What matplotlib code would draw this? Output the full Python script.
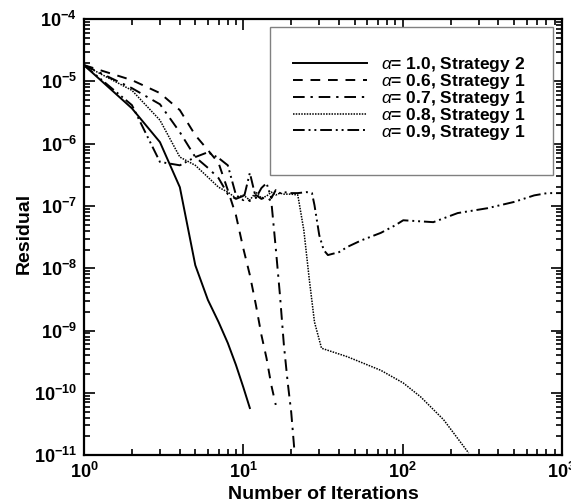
import matplotlib
matplotlib.use("Agg")
import matplotlib.pyplot as plt
import numpy as np
from matplotlib.patches import Rectangle
from matplotlib.ticker import LogLocator, FuncFormatter, NullFormatter

plt.rcParams['font.family'] = ['Liberation Sans', 'DejaVu Sans']
plt.rcParams['mathtext.fontset'] = 'custom'
plt.rcParams['mathtext.rm'] = 'Liberation Sans'
plt.rcParams['mathtext.bf'] = 'Liberation Sans:bold'
plt.rcParams['mathtext.it'] = 'Liberation Sans:italic'

# alpha = 1.0, strategy 2
it_10 = [1, 2, 3, 4, 5, 6, 7, 8, 9, 10, 11]
res_10 = [1.83e-5, 3.7e-6, 1.06e-6, 2.0e-7, 1.12e-8, 3.1e-9, 1.37e-9,
          6.3e-10, 2.8e-10, 1.24e-10, 5.7e-11]

# alpha = 0.6, strategy 1
it_06 = [1, 2, 3, 4, 5, 6, 7, 8, 9, 10, 11, 12, 13, 14, 15, 16]
res_06 = [1.83e-5, 1.05e-5, 6.5e-6, 3.46e-6, 1.37e-6, 7.9e-7, 4.9e-7,
          1.8e-7, 7.1e-8, 2.1e-8, 7.8e-9, 2.6e-9, 8.5e-10, 3.6e-10,
          1.33e-10, 6.4e-11]

# alpha = 0.7, strategy 1
it_07 = [1, 2, 3, 4, 5, 6, 7, 8, 9, 10, 11, 12, 13, 14, 15, 16, 17, 18,
         19, 20, 21]
res_07 = [1.83e-5, 7.8e-6, 4.3e-6, 1.53e-6, 6.1e-7, 4.1e-7, 2.8e-7,
          1.55e-7, 1.3e-7, 1.45e-7, 1.2e-7, 1.5e-7, 1.3e-7, 1.4e-7,
          1.2e-7, 2.1e-8, 3.7e-9, 5.8e-10, 1.49e-10, 4.9e-11, 1.1e-11]

# alpha = 0.8, strategy 1
it_08 = [1, 2, 3, 4, 5, 6, 7, 8, 9, 10, 11, 12, 13, 14, 15, 16, 17, 18,
         20, 22, 24, 26, 28, 31, 45, 73, 101, 130, 181, 260]
res_08 = [1.83e-5, 7.2e-6, 2.39e-6, 6.1e-7, 4.5e-7, 2.9e-7, 2.0e-7,
          1.67e-7, 1.34e-7, 1.5e-7, 1.24e-7, 1.67e-7, 1.34e-7, 1.44e-7,
          1.67e-7, 1.5e-7, 1.61e-7, 1.55e-7, 1.55e-7, 1.5e-7, 4.1e-8,
          6.5e-9, 1.37e-9, 5.2e-10, 3.8e-10, 2.3e-10, 1.44e-10, 8.6e-11,
          3.7e-11, 1.08e-11]

# alpha = 0.9, strategy 1
it_09 = [1, 2, 3, 4, 5, 6, 7, 8, 9, 10, 11, 12, 13, 14, 15, 16, 17, 18,
         20, 22, 25, 27, 28, 30, 32, 34, 40, 45, 55, 73, 90, 101, 156,
         222, 340, 500, 670, 810, 1000]
res_09 = [1.83e-5, 4.17e-6, 5.1e-7, 4.5e-7, 6.1e-7, 7.3e-7, 5.9e-7,
          4.5e-7, 1.5e-7, 1.24e-7, 3.4e-7, 1.34e-7, 1.94e-7, 2.33e-7,
          1.34e-7, 1.8e-7, 1.61e-7, 1.67e-7, 1.61e-7, 1.61e-7, 1.67e-7,
          1.61e-7, 1.03e-7, 3.4e-8, 1.96e-8, 1.63e-8, 1.82e-8, 2.2e-8,
          2.8e-8, 3.7e-8, 4.9e-8, 5.9e-8, 5.5e-8, 7.7e-8, 9.2e-8,
          1.16e-7, 1.48e-7, 1.61e-7, 1.61e-7]

labels = [r'$\alpha$= 1.0, Strategy 2', r'$\alpha$= 0.6, Strategy 1',
          r'$\alpha$= 0.7, Strategy 1', r'$\alpha$= 0.8, Strategy 1',
          r'$\alpha$= 0.9, Strategy 1']

fig = plt.figure(figsize=(5.71, 5.04), dpi=100)
ax = fig.add_axes([0.147, 0.097, 0.837, 0.865])

ax.plot(it_10, res_10, color='black', lw=1.4, ls='-', label=labels[0])
ax.plot(it_06, res_06, color='black', lw=1.4, ls=(0, (5, 4)), label=labels[1])
ax.plot(it_07, res_07, color='black', lw=1.4, ls=(0, (6, 3, 1.2, 3)), label=labels[2])
ax.plot(it_08, res_08, color='black', lw=1.1, ls=(0, (1, 0.8)), label=labels[3])
ax.plot(it_09, res_09, color='black', lw=1.4, ls=(0, (6, 2, 1, 2, 1, 2)), label=labels[4])

ax.set_xscale('log')
ax.set_yscale('log')
ax.set_xlim(1, 1000)
ax.set_ylim(1e-11, 1e-4)

def sci(v, pos):
    e = int(round(np.log10(v)))
    return r'$\mathbf{10^{%d}}$' % e

ax.xaxis.set_major_formatter(FuncFormatter(sci))
ax.yaxis.set_major_formatter(FuncFormatter(sci))
ax.xaxis.set_minor_locator(LogLocator(base=10, subs=np.arange(2, 10), numticks=20))
ax.yaxis.set_minor_locator(LogLocator(base=10, subs=np.arange(2, 10), numticks=20))
ax.xaxis.set_minor_formatter(NullFormatter())
ax.yaxis.set_minor_formatter(NullFormatter())

ax.tick_params(which='both', direction='in', top=True, right=True, width=1.2)
ax.tick_params(which='major', length=8, labelsize=13, pad=5)
ax.tick_params(which='minor', length=4)
for s in ax.spines.values():
    s.set_linewidth(1.6)

# axis titles placed in figure pixels like the reference
fig.text(323 / 571, 5 / 504, 'Number of Iterations', fontsize=14, fontweight='bold',
         ha='center', va='baseline')
fig.text(24 / 571, 1 - 233 / 504, 'Residual', fontsize=14, fontweight='bold',
         rotation=90, ha='center', va='center')

ax.add_patch(Rectangle((0.389, 0.642), 0.592, 0.340, transform=ax.transAxes,
                       fill=True, facecolor='white', edgecolor='#808080',
                       lw=1.0, zorder=3))
leg = ax.legend(loc='upper left', bbox_to_anchor=(0.437, 0.918), frameon=False,
                handlelength=4.3, handletextpad=0.8, labelspacing=-0.12,
                borderpad=0, borderaxespad=0,
                prop={'weight': 'bold', 'size': 12.5})
leg.set_zorder(4)

fig.savefig('out.png', dpi=100)
